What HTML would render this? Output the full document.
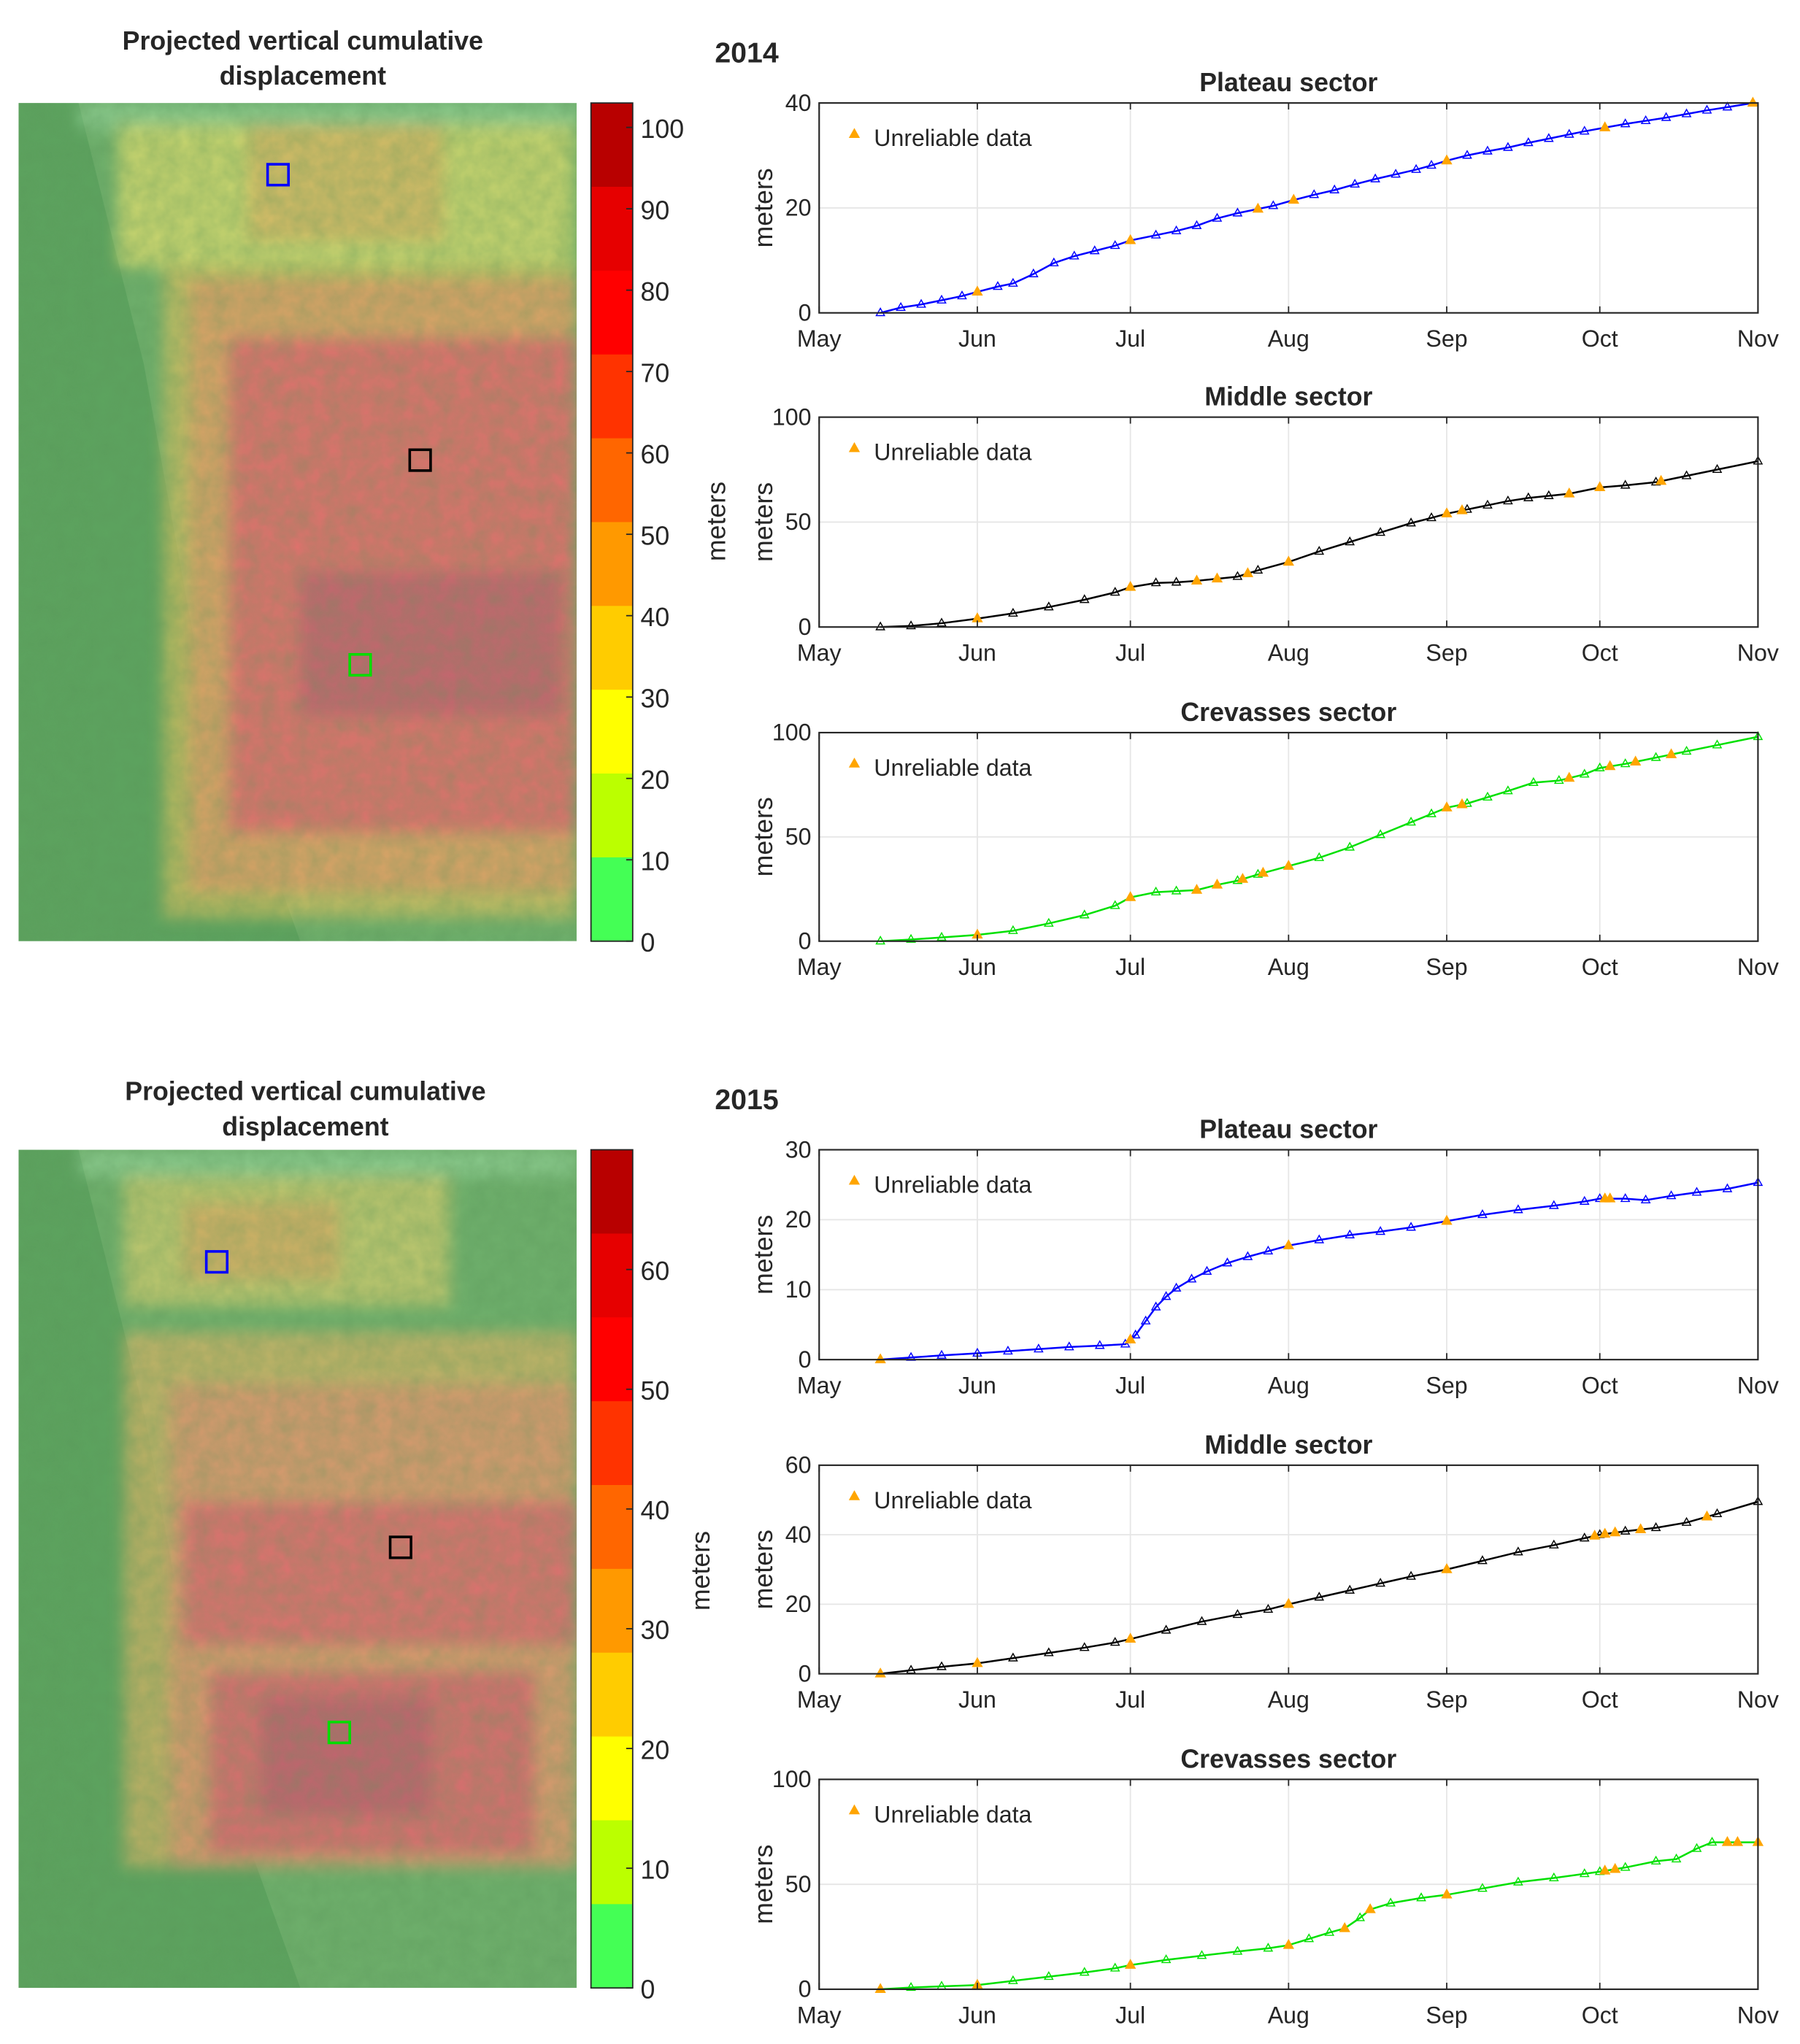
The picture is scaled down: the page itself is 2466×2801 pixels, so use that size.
<!DOCTYPE html>
<html><head><meta charset="utf-8"><style>
html,body{margin:0;padding:0;background:#fff}
svg{display:block}
text{font-family:"Liberation Sans",sans-serif;fill:#262626}
</style></head><body>
<svg id="fig" width="2466" height="2801" viewBox="0 0 1380 1568" xmlns="http://www.w3.org/2000/svg">
<defs>
<filter id="blur" x="-5%" y="-5%" width="110%" height="110%"><feGaussianBlur stdDeviation="6"/></filter>
<filter id="tex"><feTurbulence type="fractalNoise" baseFrequency="0.08" numOctaves="3" seed="4"/><feColorMatrix type="matrix" values="0 0 0 0 0.1  0 0 0 0 0.3  0 0 0 0 0.1  0 0 0 0.5 0"/></filter>
<clipPath id="clipTop"><rect x="14" y="79" width="428" height="643"/></clipPath>
<clipPath id="clipBot"><rect x="14" y="882" width="428" height="643"/></clipPath>
</defs>
</svg>
<script>
// ---------- data ----------
const monthLabels = ["May","Jun","Jul","Aug","Sep","Oct","Nov"];
const monthDays = [0,31,61,92,123,153,184];
const colorbarColors = ["#b80000","#e60000","#ff0000","#ff3300","#ff6600","#ff9900","#ffcc00","#ffff00","#bbff00","#44ff55"];

const p14Days = [12,16,20,24,28,31,35,38,42,46,50,54,58,61,66,70,74,78,82,86,89,93,97,101,105,109,113,117,120,123,127,131,135,139,143,147,150,154,158,162,166,170,174,178,183];
const p14Vals = [0,1,1.6,2.4,3.2,4,5,5.6,7.4,9.5,10.8,11.8,12.8,13.8,14.8,15.6,16.6,18,19,19.8,20.4,21.5,22.5,23.4,24.5,25.5,26.4,27.3,28.1,29,30,30.8,31.5,32.4,33.2,34,34.6,35.3,36,36.6,37.2,37.9,38.6,39.2,40];
const p14Bad = [31,61,86,93,123,154,183];

const m14Days = [12,18,24,31,38,45,52,58,61,66,70,74,78,82,86,92,98,104,110,116,120,123,127,131,135,139,143,147,153,158,164,170,176,184];
const m14Vals = [0,0.5,1.8,4,6.5,9.5,13,16.5,19,21,21.3,22,23,24,27,31,36,40.5,45,49.5,52,54,56,58,60,61.5,62.5,63.5,66.5,67.5,69,72,75,79];
const m14Bad = [31,61,74,78,84,92,123,126,147,153,165];

const c14Days = [12,18,24,31,38,45,52,58,61,66,70,74,78,82,86,92,98,104,110,116,120,123,127,131,135,140,145,150,153,158,164,170,176,184];
const c14Vals = [0,0.8,1.8,3,5,8.5,12.5,17,21,23.5,24,24.5,27,29,32,36,40,45,51,57,61,64,66,69,72,76,77,80,83,85,88,91,94,98];
const c14Bad = [31,61,74,78,83,87,92,123,126,147,155,160,167];

const p15Days = [12,18,24,31,37,43,49,55,60,62,64,66,68,70,73,76,80,84,88,92,98,104,110,116,123,130,137,144,150,153,158,162,167,172,178,184];
const p15Vals = [0,0.3,0.6,0.9,1.2,1.5,1.8,2,2.2,3.5,5.5,7.5,9,10.2,11.5,12.6,13.8,14.7,15.5,16.3,17.1,17.8,18.3,18.9,19.8,20.7,21.4,22,22.6,23,23,22.8,23.4,23.9,24.4,25.3];
const p15Bad = [12,61,92,123,154,155];

const m15Days = [12,18,24,31,38,45,52,58,61,68,75,82,88,92,98,104,110,116,123,130,137,144,150,153,158,164,170,176,184];
const m15Vals = [0,1,2,3,4.5,6,7.5,9,10,12.5,15,17,18.5,20,22,24,26,28,30,32.5,35,37,39,40,41,42,43.5,46,49.5];
const m15Bad = [12,31,61,92,123,152,154,156,161,174];

const c15Days = [12,18,24,31,38,45,52,58,61,68,75,82,88,92,96,100,103,106,108,112,118,123,130,137,144,150,153,158,164,168,172,175,178,184];
const c15Vals = [0,0.8,1.4,2,4,6,8,10,11.5,14,16,18,19.5,21,24,27,29,34,38,41,43.5,45,48,51,53,55,56,58,61,62,67,70,70,70];
const c15Bad = [12,31,61,92,103,108,123,154,156,178,180,184];

// ---------- helpers ----------
const NS = "http://www.w3.org/2000/svg";
const svg = document.getElementById("fig");
function mk(tag, attrs, parent){
  const e = document.createElementNS(NS, tag);
  for (const k in attrs) e.setAttribute(k, attrs[k]);
  (parent||svg).appendChild(e);
  return e;
}
function txt(x,y,s,size,opts,parent){
  const t = mk("text", Object.assign({x:x,y:y,"font-size":size}, opts||{}), parent);
  t.textContent = s;
  return t;
}
const X0 = 628, X1 = 1348;
function xScale(d){ return X0 + d/184*(X1-X0); }
function interp(days, vals, d){
  if (d<=days[0]) return vals[0];
  for (let i=1;i<days.length;i++){ if (d<=days[i]){ const f=(d-days[i-1])/(days[i]-days[i-1]); return vals[i-1]+f*(vals[i]-vals[i-1]); } }
  return vals[vals.length-1];
}
function tri(g,x,y,size,fill,stroke){
  return mk("path",{d:`M${x},${y-size} L${x+size*0.9},${y+size*0.6} L${x-size*0.9},${y+size*0.6} Z`,fill:fill,stroke:stroke,"stroke-width":0.8},g);
}

function chart(name, top, bottom, yMax, yTicks, title, days, vals, bad, color){
  const g = mk("g",{});
  
  
  const yS = v => bottom - v/yMax*(bottom-top);
  mk("rect",{x:X0,y:top,width:X1-X0,height:bottom-top,fill:"#fff"},g);
  monthDays.forEach(d=>{ if(d>0&&d<184) mk("line",{x1:xScale(d),x2:xScale(d),y1:top,y2:bottom,stroke:"#e6e6e6","stroke-width":1},g); });
  yTicks.forEach(v=>{ if(v>0&&v<yMax) mk("line",{x1:X0,x2:X1,y1:yS(v),y2:yS(v),stroke:"#e6e6e6","stroke-width":1},g); });
  const line = mk("polyline",{points:days.map((d,i)=>xScale(d)+","+yS(vals[i])).join(" "),fill:"none",stroke:color,"stroke-width":1.4},g);
  
  
  days.forEach((d,i)=>{
    const m = tri(g,xScale(d),yS(vals[i]),3.5,"none",color);
    
    
  });
  bad.forEach(d=>{
    const m = tri(g,xScale(d),yS(interp(days,vals,d)),4,"#ffa500","#ffa500");
    
    
  });
  mk("rect",{x:X0,y:top,width:X1-X0,height:bottom-top,fill:"none",stroke:"#262626","stroke-width":1.2},g);
  monthDays.forEach((d,i)=>{
    mk("line",{x1:xScale(d),x2:xScale(d),y1:bottom,y2:bottom-5,stroke:"#262626"},g);
    mk("line",{x1:xScale(d),x2:xScale(d),y1:top,y2:top+5,stroke:"#262626"},g);
    const t = txt(xScale(d),bottom+26,monthLabels[i],18,{"text-anchor":"middle"},g);
    
    
  });
  yTicks.forEach(v=>{
    const t = txt(X0-6,yS(v)+6,String(v),18,{"text-anchor":"end"},g);
    
    
  });
  const tt = txt((X0+X1)/2,top-9,title,20,{"text-anchor":"middle","font-weight":"bold",fill:"#000"},g);
  
  
  const yl = txt(0,0,"meters",20,{"text-anchor":"middle",transform:`translate(592,${(top+bottom)/2}) rotate(-90)`},g);
  
  
  const lg = mk("g",{},g);
  
  
  tri(lg,655,top+24,4,"#ffa500","#ffa500");
  txt(670,top+33,"Unreliable data",18,{},lg);
}

function map(clip, y0, hot){
  const g = mk("g",{"clip-path":`url(#${clip})`});
  
  
  mk("rect",{x:14,y:y0,width:428,height:643,fill:"#6fb06c"},g);
  mk("path",{d:`M14,${y0} L60,${y0} L110,${y0+200} L150,${y0+420} L230,${y0+643} L14,${y0+643} Z`,fill:"#4e9a55",opacity:0.55},g);
  const h = mk("g",{filter:"url(#blur)"},g);
  hot.forEach(r=>mk("rect",{x:r[0],y:y0+r[1],width:r[2],height:r[3],fill:r[4],opacity:r[5]},h));
  mk("rect",{x:14,y:y0,width:428,height:643,filter:"url(#tex)",opacity:0.8},g);
}

function colorbar(top, bottom, ticks, maxV){
  const g = mk("g",{});
  
  
  const h = (bottom-top)/colorbarColors.length;
  colorbarColors.forEach((c,i)=>mk("rect",{x:453,y:top+i*h,width:32,height:h+0.5,fill:c},g));
  mk("rect",{x:453,y:top,width:32,height:bottom-top,fill:"none",stroke:"#262626","stroke-width":1},g);
  ticks.forEach(v=>{
    const y = bottom - v/maxV*(bottom-top);
    mk("line",{x1:480,x2:485,y1:y,y2:y,stroke:"#262626"},g);
    const t = txt(491,y+8,String(v),20,{},g);
    
    
  });
}

// ---------- titles ----------
[[232,38,"Projected vertical cumulative"],[232,65,"displacement"],[234,844,"Projected vertical cumulative"],[234,871,"displacement"]].forEach(a=>{
  const t = txt(a[0],a[1],a[2],20,{"text-anchor":"middle","font-weight":"bold",fill:"#000"});
  
  
});
[[548,48,"2014"],[548,851,"2015"]].forEach(a=>{
  const t = txt(a[0],a[1],a[2],22,{"font-weight":"bold",fill:"#000"});
  
  
});

// ---------- maps ----------
map("clipTop",79,[
  [60,0,382,20,"#a8e8b0",0.5],
  [90,16,350,110,"#e6e070",0.75],
  [190,16,150,90,"#e0a860",0.55],
  [125,125,317,500,"#e0c060",0.7],
  [145,135,297,470,"#e89868",0.7],
  [175,180,267,380,"#e06070",0.75],
  [230,360,200,110,"#b05870",0.5]
]);
map("clipBot",882,[
  [60,0,382,20,"#a8e8b0",0.5],
  [95,20,250,100,"#e0d070",0.7],
  [140,40,120,60,"#e0a060",0.55],
  [95,140,347,410,"#e0b468",0.72],
  [130,180,312,370,"#e69070",0.7],
  [140,270,302,110,"#e06070",0.7],
  [160,400,250,140,"#d86070",0.75],
  [200,420,130,90,"#b05870",0.5]
]);
colorbar(79,722,[0,10,20,30,40,50,60,70,80,90,100],103);
colorbar(882,1525,[0,10,20,30,40,50,60],70);
[[213,134,"#0000ff"],[322,353,"#000"],[276,510,"#00dd00"],[166,968,"#0000ff"],[307,1187,"#000"],[260,1329,"#00dd00"]].forEach(m=>{
  const r = mk("rect",{x:m[0]-8,y:m[1]-8,width:16,height:16,fill:"none",stroke:m[2],"stroke-width":2});
  
  
});
{
  const t = txt(0,0,"meters",20,{"text-anchor":"middle",transform:"translate(544,1205) rotate(-90)"});
  
  
  const t2 = txt(0,0,"meters",20,{"text-anchor":"middle",transform:"translate(556,400) rotate(-90)"});
  
  
}

// ---------- charts ----------
chart("plateau-2014",79,240,40,[0,20,40],"Plateau sector",p14Days,p14Vals,p14Bad,"#0000ff");
chart("middle-2014",320,481,100,[0,50,100],"Middle sector",m14Days,m14Vals,m14Bad,"#000000");
chart("crevasses-2014",562,722,100,[0,50,100],"Crevasses sector",c14Days,c14Vals,c14Bad,"#00e000");
chart("plateau-2015",882,1043,30,[0,10,20,30],"Plateau sector",p15Days,p15Vals,p15Bad,"#0000ff");
chart("middle-2015",1124,1284,60,[0,20,40,60],"Middle sector",m15Days,m15Vals,m15Bad,"#000000");
chart("crevasses-2015",1365,1526,100,[0,50,100],"Crevasses sector",c15Days,c15Vals,c15Bad,"#00e000");
</script>
</body></html>
